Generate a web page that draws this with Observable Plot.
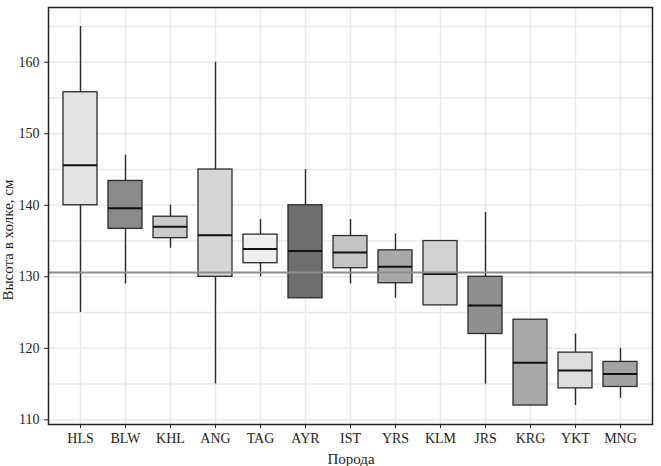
<!DOCTYPE html>
<html>
<head>
<meta charset="utf-8">
<script src="https://cdn.jsdelivr.net/npm/d3@7"></script>
<script src="https://cdn.jsdelivr.net/npm/@observablehq/plot@0.6"></script>
<style>
  html, body { margin: 0; padding: 0; background: #fff; }
  #chart { width: 661px; height: 466px; }
</style>
</head>
<body>
<div id="chart"></div>
<script>
const breeds = ["HLS","BLW","KHL","ANG","TAG","AYR","IST","YRS","KLM","JRS","KRG","YKT","MNG"];
const whiskerHigh = [165, 147, 140, 160, 138, 145, 138, 136, 135, 139, 124, 122, 120];
const q3          = [155.8, 143.4, 138.4, 145, 135.9, 140, 135.7, 133.7, 135, 130, 124, 119.4, 118.1];
const medians     = [145.6, 139.6, 137.0, 135.8, 133.9, 133.6, 133.4, 131.4, 130.4, 126, 118, 116.9, 116.4];
const q1          = [140, 136.7, 135.4, 130, 131.9, 127, 131.2, 129.1, 126, 122, 112, 114.4, 114.6];
const whiskerLow  = [125, 129, 134, 115, 130, 127, 129, 127, 126, 115, 112, 112, 113];
const fills       = ["#e3e3e3","#8a8a8a","#cbcbcb","#d6d6d6","#efefef","#6e6e6e","#c4c4c4","#a9a9a9","#d2d2d2","#8f8f8f","#a8a8a8","#dedede","#a3a3a3"];
const meanLine = [130.6];
const yTicks = [110, 120, 130, 140, 150, 160];
const yGrid = [110, 115, 120, 125, 130, 135, 140, 145, 150, 155, 160, 165];
const yTitle = "Высота в холке, см";
const xTitle = "Порода";

const data = breeds.map((b, i) => ({
  breed: b, hi: whiskerHigh[i], q3: q3[i], med: medians[i], q1: q1[i], lo: whiskerLow[i], fill: fills[i]
}));

const W = 661, H = 466;
const plot = Plot.plot({
  width: W,
  height: H,
  marginLeft: 48,
  marginRight: 9,
  marginTop: 7,
  marginBottom: 42,
  style: { fontFamily: "Liberation Serif", fontSize: "14px", color: "#1e1e1e", background: "#fff" },
  x: { type: "band", domain: breeds, paddingInner: 0.25, paddingOuter: 0.225, align: 0.5 },
  y: { domain: [109.35, 167.65] },
  color: { type: "identity" },
  marks: [
    Plot.gridY(yGrid, { stroke: "#eaeaea", strokeOpacity: 1, strokeWidth: 1.5 }),
    Plot.gridX(breeds, { stroke: "#eaeaea", strokeOpacity: 1, strokeWidth: 1.5 }),
    Plot.ruleX(data, { x: "breed", y1: "lo", y2: "hi", stroke: "#2b2b2b", strokeWidth: 1.4 }),
    Plot.barY(data, { x: "breed", y1: "q1", y2: "q3", fill: "fill", stroke: "#2b2b2b", strokeWidth: 1.3 }),
    Plot.tickY(data, { x: "breed", y: "med", stroke: "#111", strokeWidth: 2 }),
    Plot.ruleY(meanLine, { stroke: "#8c8c8c", strokeWidth: 2 }),
    Plot.frame({ stroke: "#222", strokeWidth: 1.5 }),
    Plot.axisY(yTicks, { tickSize: 4, tickPadding: 5, label: null, fontSize: 14, fill: "#1e1e1e", stroke: "#222" }),
    Plot.axisX({ tickSize: 4, tickPadding: 5, label: null, fontSize: 14, fill: "#1e1e1e", stroke: "#222" })
  ]
});

const svg = d3.select(plot);
svg.append("text")
  .attr("transform", "translate(13,240) rotate(-90)")
  .attr("text-anchor", "middle")
  .attr("font-family", "Liberation Serif")
  .attr("font-size", 15)
  .attr("fill", "#1e1e1e")
  .text(yTitle);
svg.append("text")
  .attr("x", 351)
  .attr("y", 464)
  .attr("text-anchor", "middle")
  .attr("font-family", "Liberation Serif")
  .attr("font-size", 15)
  .attr("fill", "#1e1e1e")
  .text(xTitle);

document.getElementById("chart").appendChild(plot);
</script>
</body>
</html>
